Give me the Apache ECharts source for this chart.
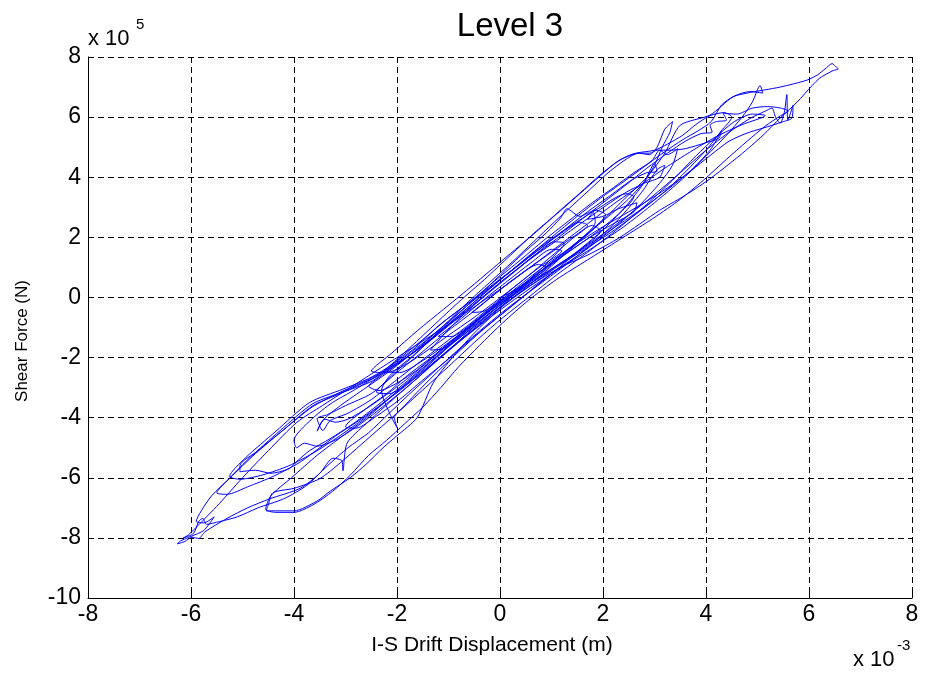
<!DOCTYPE html>
<html>
<head>
<meta charset="utf-8">
<script src="https://cdn.jsdelivr.net/npm/echarts@6/dist/echarts.min.js"></script>
<style>
html,body{margin:0;padding:0;background:#fff;}
#chart{width:926px;height:676px;}
</style>
</head>
<body>
<div id="chart"></div>
<script>
// Axis ticks (x in 1e-3 m, y in 1e5 N)
const xTicks = [-8, -6, -4, -2, 0, 2, 4, 6, 8];
const yTicks = [-10, -8, -6, -4, -2, 0, 2, 4, 6, 8];

// Hysteresis trace, split into loops: [drift, force]
const loop1 = [[0.0,0.0],[0.35,0.3],[0.7,0.8],[1.0,1.3],[1.25,1.8],[1.05,1.85],[0.7,1.45],[0.3,0.9],[-0.1,0.35],[-0.5,-0.25],[-0.85,-0.8],[-1.15,-1.35],[-1.35,-1.75],[-1.1,-1.7],[-0.75,-1.3],[-0.35,-0.75],[0.05,-0.2]];
const loop2 = [[0.45,0.35],[0.9,0.95],[1.35,1.6],[1.75,2.2],[2.05,2.75],[1.85,2.9],[1.55,2.7],[1.3,2.95],[1.18,2.65],[0.9,2.15],[0.5,1.55],[0.1,0.9],[-0.3,0.25],[-0.75,-0.45],[-1.2,-1.15],[-1.65,-1.9],[-2.1,-2.6],[-2.4,-3.15],[-2.15,-3.2],[-1.75,-2.8],[-1.3,-2.2],[-0.85,-1.55],[-0.35,-0.85],[0.1,-0.2]];
const loop3 = [[0.55,0.35],[1.05,0.95],[1.55,1.6],[2.0,2.25],[2.4,2.95],[2.75,3.7],[3.0,4.4],[3.15,5.0],[3.3,5.5],[3.35,5.85],[3.2,5.6],[3.05,5.0],[2.9,4.75],[2.7,4.8],[2.45,4.6],[2.1,4.15],[1.75,3.6],[1.4,3.05],[1.05,2.5],[0.65,1.85],[0.25,1.2],[-0.2,0.5],[-0.65,-0.2],[-1.1,-0.95],[-1.6,-1.7],[-2.1,-2.4],[-2.6,-3.0],[-3.1,-3.6],[-3.45,-4.1],[-3.55,-4.45],[-3.4,-4.05],[-3.2,-4.15]];
const loop4 = [[-2.95,-4.05],[-2.55,-3.65],[-2.1,-3.1],[-1.65,-2.5],[-1.2,-1.85],[-0.7,-1.15],[-0.2,-0.45],[0.35,0.2],[0.9,0.8],[1.5,1.45],[2.1,2.1],[2.7,2.85],[3.25,3.6],[3.7,4.35],[4.05,5.0],[4.3,5.55],[4.5,6.0],[4.35,6.15],[4.08,6.05],[3.8,5.75],[3.55,5.4],[3.25,5.1],[3.0,4.9],[2.65,4.8],[2.3,4.55],[1.95,4.05],[1.55,3.45],[1.15,2.85],[0.7,2.2],[0.2,1.4],[-0.3,0.6],[-0.8,-0.15],[-1.3,-0.95],[-1.8,-1.75],[-2.3,-2.5],[-2.8,-3.05],[-3.3,-3.55],[-3.75,-4.2],[-4.0,-4.75],[-3.95,-5.0],[-3.8,-4.85]];
const loop5 = [[-3.55,-4.95],[-3.15,-4.7],[-2.7,-4.2],[-2.25,-3.6],[-1.75,-2.9],[-1.25,-2.15],[-0.7,-1.35],[-0.1,-0.55],[0.5,0.2],[1.1,0.9],[1.75,1.6],[2.4,2.35],[3.0,3.15],[3.55,3.95],[4.0,4.7],[4.4,5.4],[4.7,6.0],[4.9,6.5],[5.05,7.05],[5.1,6.8],[4.85,6.85],[4.55,6.7],[4.3,6.4],[4.1,5.85],[3.85,5.55],[3.55,5.25],[3.2,4.85],[2.8,4.35],[2.4,3.85],[1.95,3.3],[1.5,2.7],[1.0,2.0],[0.5,1.3],[-0.05,0.5],[-0.6,-0.3],[-1.15,-1.1],[-1.7,-1.85],[-2.25,-2.45],[-2.7,-2.85],[-3.1,-3.15],[-3.65,-3.65],[-4.2,-4.4],[-4.7,-5.1],[-5.05,-5.6],[-5.05,-5.8],[-4.75,-5.75],[-4.45,-5.85],[-4.1,-5.7],[-3.94,-5.45],[-3.7,-5.1]];
const loop6 = [[-3.3,-4.7],[-2.85,-4.2],[-2.35,-3.55],[-1.85,-2.85],[-1.3,-2.05],[-0.75,-1.25],[-0.15,-0.45],[0.45,0.3],[1.05,1.0],[1.7,1.75],[2.35,2.55],[2.95,3.35],[3.5,4.15],[4.0,4.9],[4.45,5.5],[4.85,5.95],[5.15,6.2],[5.28,6.3],[5.35,6.0],[5.44,5.8],[5.52,6.15],[5.57,6.75],[5.59,5.9],[5.69,6.4],[5.67,5.97],[5.5,5.85],[5.1,5.63],[4.8,5.47],[4.45,5.2],[4.1,4.75],[3.7,4.2],[3.3,3.7],[2.85,3.2],[2.4,2.75],[1.95,2.3],[1.45,1.75],[0.95,1.15],[0.45,0.5],[-0.05,-0.2],[-0.55,-0.95],[-1.05,-1.7],[-1.55,-2.45],[-2.05,-3.2],[-2.55,-3.95],[-3.05,-4.6],[-3.55,-5.25],[-4.05,-6.0],[-4.45,-6.6],[-4.55,-7.05],[-4.35,-7.15],[-4.0,-7.15],[-3.63,-6.9]];
const loop7 = [[-3.25,-6.45],[-2.9,-5.9],[-2.55,-5.25],[-2.2,-4.75],[-1.85,-4.2],[-1.5,-3.65],[-1.15,-3.0],[-0.8,-2.3],[-0.4,-1.6],[0.05,-0.85],[0.55,-0.1],[1.1,0.6],[1.7,1.25],[2.3,1.9],[2.9,2.55],[3.45,3.2],[3.95,3.9],[4.4,4.6],[4.8,5.2],[5.15,5.7],[5.45,6.05],[5.6,6.2],[5.45,6.3],[5.2,6.35],[4.9,6.3],[4.6,6.1],[4.33,6.13],[4.4,5.9],[4.2,5.85],[4.08,5.73],[4.12,5.5],[3.9,5.45],[3.6,5.2],[3.25,4.8],[2.85,4.3],[2.45,3.75],[2.0,3.15],[1.55,2.55],[1.1,1.95],[0.6,1.3],[0.1,0.6],[-0.4,-0.1],[-0.9,-0.8],[-1.4,-1.5],[-1.9,-2.1],[-2.3,-2.55],[-2.66,-2.85],[-3.1,-3.2],[-3.63,-3.6],[-4.2,-4.4],[-4.75,-5.2],[-5.24,-6.0],[-5.6,-6.6],[-5.8,-7.1],[-5.9,-7.45],[-5.75,-7.5],[-5.55,-7.3]];
const loop8 = [[-5.75,-7.75],[-6.0,-7.95],[-6.2,-8.1],[-6.27,-8.2],[-6.12,-8.12],[-5.98,-7.98],[-5.85,-8.02],[-5.73,-7.8],[-5.3,-7.35],[-4.9,-7.0],[-4.47,-6.7],[-3.88,-6.35],[-3.5,-5.85],[-3.24,-5.35],[-3.07,-5.43],[-3.05,-5.77],[-2.97,-4.85],[-2.6,-4.2],[-2.15,-3.5],[-1.65,-2.75],[-1.1,-1.9],[-0.5,-1.0],[0.1,-0.2],[0.7,0.6],[1.3,1.5],[1.9,2.4],[2.4,3.25],[2.85,4.0],[3.2,4.8],[3.5,5.73],[4.08,6.07],[4.52,6.67],[4.8,6.8],[5.44,7.0],[5.96,7.23],[6.16,7.4],[6.31,7.6],[6.45,7.78],[6.52,7.68],[6.57,7.6],[6.47,7.55],[6.21,7.3],[6.06,7.05],[5.77,6.5],[5.44,5.97],[5.11,5.4],[4.66,4.73],[4.04,3.9],[3.55,3.35],[3.1,2.9],[2.33,2.0],[1.75,1.45],[1.17,1.0],[0.6,0.4],[0.05,-0.3],[-0.45,-1.1],[-0.9,-1.95],[-1.3,-2.85],[-1.61,-4.0],[-2.0,-4.6],[-2.27,-5.0],[-2.6,-5.55],[-2.91,-6.0],[-3.3,-6.45],[-3.55,-6.77],[-4.0,-7.1],[-4.54,-7.1],[-4.5,-6.9],[-4.41,-6.5],[-4.0,-6.35],[-3.5,-6.03]];
const loop9 = [[-3.1,-5.5],[-2.7,-4.9],[-2.3,-4.3],[-1.9,-3.7],[-1.45,-3.0],[-1.0,-2.3],[-0.5,-1.5],[0.0,-0.75],[0.55,0.0],[1.1,0.75],[1.7,1.5],[2.3,2.3],[2.85,3.1],[3.35,3.9],[3.8,4.7],[4.2,5.35],[4.55,5.85],[4.9,6.1],[5.15,6.05],[4.7,5.75],[4.2,5.35],[3.7,4.85],[3.2,4.3],[2.7,3.7],[2.2,3.1],[1.7,2.45],[1.2,1.8],[0.7,1.15],[0.15,0.45],[-0.4,-0.2],[-0.95,-0.85],[-1.5,-1.45],[-2.0,-2.0],[-2.5,-2.55],[-3.0,-3.1],[-3.45,-3.6],[-3.94,-4.15],[-4.5,-5.1],[-5.0,-6.0],[-5.5,-6.95],[-6.05,-7.9],[-6.15,-8.0],[-5.95,-7.85],[-5.85,-7.45],[-5.77,-7.35],[-5.7,-7.55],[-5.55,-7.5],[-5.1,-7.3]];
const loop10 = [[-4.7,-7.0],[-4.2,-6.7],[-3.75,-6.25],[-3.35,-5.6],[-2.95,-5.0],[-2.55,-4.5],[-2.15,-3.85],[-1.75,-3.2],[-1.3,-2.5],[-0.85,-1.8],[-0.35,-1.05],[0.15,-0.35],[0.7,0.35],[1.25,1.05],[1.8,1.8],[2.3,2.6],[2.75,3.5],[3.05,4.25],[3.2,4.4],[3.1,4.0],[2.8,3.8],[2.45,3.5],[2.05,3.05],[1.6,2.5],[1.15,1.95],[0.65,1.35],[0.15,0.7],[-0.35,0.0],[-0.85,-0.7],[-1.35,-1.4],[-1.85,-2.05],[-2.3,-2.6],[-2.55,-2.95],[-2.35,-3.1],[-2.0,-2.85]];
const loop11 = [[-1.6,-2.4],[-1.15,-1.75],[-0.65,-1.05],[-0.15,-0.35],[0.4,0.35],[0.95,1.1],[1.5,1.85],[2.0,2.55],[2.45,3.2],[2.8,3.85],[3.0,4.45],[3.05,4.2],[2.85,4.15],[2.55,3.9],[2.15,3.4],[1.7,2.85],[1.25,2.25],[0.8,1.65],[0.3,1.0],[-0.2,0.3],[-0.7,-0.45],[-1.2,-1.2],[-1.7,-1.95],[-2.14,-2.6],[-2.3,-3.1],[-2.14,-3.87],[-2.0,-4.33],[-2.05,-4.0],[-1.85,-3.6],[-1.55,-3.05],[-1.2,-2.45],[-0.8,-1.8]];
const loop12 = [[-0.35,-1.1],[0.15,-0.4],[0.65,0.3],[1.15,1.0],[1.6,1.65],[1.95,2.2],[1.8,2.4],[1.45,2.05],[1.0,1.5],[0.5,0.9],[0.0,0.25],[-0.5,-0.45],[-1.0,-1.1],[-1.5,-1.8],[-2.0,-2.5],[-2.5,-3.2],[-3.0,-3.6],[-3.35,-3.9],[-3.55,-4.03],[-3.44,-4.43],[-3.3,-4.1],[-2.95,-3.85],[-2.5,-3.4],[-2.05,-2.8],[-1.6,-2.2],[-1.1,-1.55],[-0.6,-0.9],[-0.1,-0.2],[0.35,0.45],[0.8,1.05],[1.2,1.55],[1.0,1.6],[0.6,1.15],[0.15,0.55],[-0.3,-0.05],[-0.75,-0.7],[-1.2,-1.3],[-0.95,-1.3],[-0.5,-0.8],[0.0,-0.1]];
const loop13 = [[0.5,0.5],[1.0,1.15],[1.5,1.85],[1.85,2.5],[1.81,2.83],[1.7,2.6],[2.0,2.7],[2.3,2.95],[2.66,3.15],[2.6,2.85],[2.2,2.45],[1.7,1.95],[1.2,1.35],[0.7,0.75],[0.2,0.1],[-0.3,-0.55],[-0.8,-1.25],[-1.3,-1.95],[-1.8,-2.6],[-2.2,-3.2],[-2.6,-3.7],[-3.0,-4.3],[-2.8,-4.35],[-2.4,-3.95],[-1.95,-3.4],[-1.5,-2.75],[-1.0,-2.05],[-0.5,-1.3],[0.0,-0.6],[0.5,0.1]];
const loop14 = [[1.0,0.8],[1.6,1.5],[2.2,2.3],[2.7,3.05],[3.1,3.8],[3.35,4.4],[3.45,4.95],[3.25,4.75],[3.1,4.9],[2.95,4.55],[2.6,4.15],[2.2,3.65],[1.75,3.1],[1.3,2.5],[0.85,1.9],[0.4,1.25],[-0.1,0.55],[-0.55,-0.1],[-1.05,-0.75],[-1.5,-1.4],[-2.0,-2.1],[-2.47,-2.77],[-2.97,-3.1],[-3.63,-3.53],[-4.27,-4.43],[-4.9,-5.4],[-5.3,-6.1],[-5.5,-6.5],[-5.3,-6.55],[-4.9,-6.3],[-4.4,-5.95],[-3.9,-5.5],[-3.5,-5.0],[-3.1,-4.5],[-2.7,-4.05],[-2.3,-3.55],[-1.9,-3.0],[-1.45,-2.35],[-1.0,-1.65],[-0.5,-0.95],[0.0,-0.25],[0.4,0.3]];
const loop15 = [[0.9,1.0],[1.4,1.6],[1.9,2.2],[2.35,2.85],[2.6,3.35],[2.45,3.45],[1.9,2.95],[1.3,2.3],[0.8,1.7],[0.3,1.0],[-0.2,0.35],[-0.7,-0.3],[-1.2,-0.95],[-1.7,-1.75],[-2.2,-2.35],[-2.55,-2.7],[-3.05,-3.05],[-3.7,-3.5],[-4.35,-4.45],[-4.95,-5.35],[-5.25,-5.95],[-5.05,-6.05],[-4.6,-5.9],[-4.1,-5.6],[-3.6,-5.15],[-3.15,-4.65],[-2.7,-4.1],[-2.25,-3.5],[-1.8,-2.9],[-1.35,-2.25],[-0.9,-1.6],[-0.4,-0.9],[0.05,-0.25],[0.4,0.3]];
const loop16 = [[1.0,0.95],[1.6,1.6],[2.2,2.3],[2.8,3.0],[3.3,3.65],[3.75,4.3],[4.1,4.95],[4.3,5.55],[4.25,5.3],[4.0,5.15],[3.6,4.95],[3.3,4.9],[3.05,4.9],[2.91,4.8],[2.66,4.8],[2.33,4.57],[1.94,4.07],[1.55,3.47],[1.17,2.9],[0.75,2.25],[0.3,1.6],[-0.15,0.95],[-0.6,0.3],[-1.1,-0.4],[-1.6,-1.1],[-2.1,-1.85],[-2.5,-2.45],[-2.2,-2.5],[-1.8,-2.2]];
const loop17 = [[-1.4,-1.75],[-0.95,-1.2],[-0.45,-0.6],[0.05,0.05],[0.5,0.65],[0.95,1.3],[1.4,1.95],[1.7,2.4],[1.55,2.5],[1.2,2.15],[0.8,1.65],[0.35,1.05],[-0.1,0.45],[-0.55,-0.15],[-1.0,-0.8],[-1.45,-1.45],[-1.9,-2.05],[-2.2,-2.45],[-1.95,-2.5],[-1.5,-2.1],[-1.0,-1.5],[-0.5,-0.85],[0.0,-0.2],[0.45,0.4],[0.9,1.0],[0.75,1.1],[0.3,0.65],[-0.15,0.05],[-0.55,-0.5],[-0.3,-0.45],[0.1,0.0]];

const trace = [].concat(loop1, loop2, loop3, loop4, loop5, loop6, loop7, loop8, loop9, loop10, loop11, loop12, loop13, loop14, loop15, loop16, loop17);

const FONT = 'Liberation Sans, Arial, sans-serif';
const chart = echarts.init(document.getElementById('chart'), null, {renderer: 'canvas'});
chart.setOption({
  backgroundColor: '#ffffff',
  animation: false,
  grid: {left: 88, right: 14, top: 57, bottom: 78, containLabel: false},
  xAxis: {
    type: 'value', min: xTicks[0], max: xTicks[xTicks.length - 1], interval: 2,
    axisLine: {show: true, onZero: false, lineStyle: {color: '#000', width: 1}},
    axisTick: {show: true, inside: true, length: 5, lineStyle: {color: '#000'}},
    axisLabel: {color: '#000', fontSize: 23, fontFamily: FONT, margin: 5},
    splitLine: {show: true, lineStyle: {color: '#000', width: 1, type: [6, 4]}}
  },
  yAxis: {
    type: 'value', min: yTicks[0], max: yTicks[yTicks.length - 1], interval: 2,
    axisLine: {show: true, onZero: false, lineStyle: {color: '#000', width: 1}},
    axisTick: {show: true, inside: true, length: 5, lineStyle: {color: '#000'}},
    axisLabel: {color: '#000', fontSize: 23, fontFamily: FONT, margin: 7},
    splitLine: {show: true, lineStyle: {color: '#000', width: 1, type: [6, 4]}}
  },
  series: [{
    type: 'line', data: trace, showSymbol: false, smooth: 0.25,
    lineStyle: {color: '#0000ff', width: 1}, z: 3
  }],
  graphic: [
    {type: 'text', style: {text: 'Level 3', x: 510, y: 27, fill: '#000', font: '33px ' + FONT, textAlign: 'center', textVerticalAlign: 'middle'}},
    {type: 'text', style: {text: 'x 10', x: 88, y: 39, fill: '#000', font: '22px ' + FONT, textAlign: 'left', textVerticalAlign: 'middle'}},
    {type: 'text', style: {text: '5', x: 136, y: 25, fill: '#000', font: '15px ' + FONT, textAlign: 'left', textVerticalAlign: 'middle'}},
    {type: 'text', style: {text: 'x 10', x: 853, y: 660, fill: '#000', font: '22px ' + FONT, textAlign: 'left', textVerticalAlign: 'middle'}},
    {type: 'text', style: {text: '-3', x: 897, y: 646, fill: '#000', font: '15px ' + FONT, textAlign: 'left', textVerticalAlign: 'middle'}},
    {type: 'text', style: {text: 'I-S Drift Displacement (m)', x: 492, y: 645, fill: '#000', font: '21px ' + FONT, textAlign: 'center', textVerticalAlign: 'middle'}},
    {type: 'text', rotation: Math.PI / 2, x: 22, y: 341, style: {text: 'Shear Force (N)', x: 0, y: 0, fill: '#000', font: '17px ' + FONT, textAlign: 'center', textVerticalAlign: 'middle'}}
  ]
});
</script>
</body>
</html>
